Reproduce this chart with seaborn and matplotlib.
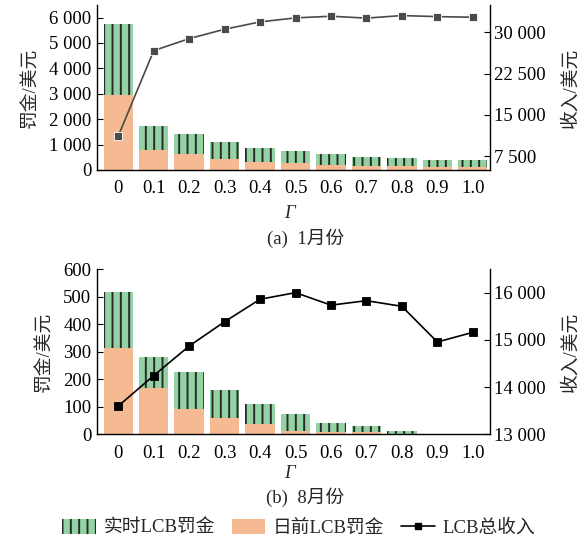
import numpy as np
import pandas as pd
import matplotlib
matplotlib.use("Agg")
import matplotlib.pyplot as plt
import seaborn as sns
from matplotlib.ticker import FuncFormatter, FixedLocator
from matplotlib.patches import Patch
from matplotlib.lines import Line2D

# ---- data ----
gamma_labels = ["0", "0.1", "0.2", "0.3", "0.4", "0.5", "0.6", "0.7", "0.8", "0.9", "1.0"]

jan_total_penalty = [5750, 1730, 1405, 1115, 853, 761, 617, 512, 485, 394, 394]
jan_dayahead_penalty = [2950, 790, 630, 433, 328, 262, 210, 170, 165, 118, 118]
jan_income = [11180, 26690, 28870, 30580, 31910, 32640, 32940, 32600, 33060, 32870, 32760]

aug_total_penalty = [517, 282, 226, 161, 111, 73, 41, 29, 12, 3, 2]
aug_dayahead_penalty = [314, 169, 91, 60, 36.5, 13, 10, 8, 3, 1, 1]
aug_income = [13600, 14245, 14870, 15385, 15860, 16000, 15735, 15830, 15710, 14955, 15160]

GREEN = "#92d2a3"
ORANGE = "#f6ba92"
HATCH_C = "#2a2a2a"

sns.set_theme(style="white")
plt.rcParams["font.family"] = ["Liberation Serif", "Noto Sans CJK SC", "DejaVu Sans"]
plt.rcParams["hatch.linewidth"] = 1.4
plt.rcParams["hatch.color"] = HATCH_C
plt.rcParams["axes.unicode_minus"] = False

FS = 13.5

def thou(x, pos):
    return f"{int(round(x)):,}".replace(",", " ")

fig = plt.figure(figsize=(5.88, 5.44), dpi=100)

def panel(rect, total, dayahead, income, lylim, lyticks, rylim, ryticks, lcolor, caption, cap_y, gamma_y):
    ax = fig.add_axes(rect)
    df = pd.DataFrame({"g": gamma_labels, "total": total, "da": dayahead})
    sns.barplot(data=df, x="g", y="total", ax=ax, color=GREEN, width=0.83,
                hatch="||", edgecolor=HATCH_C, linewidth=0, saturation=1)
    sns.barplot(data=df, x="g", y="da", ax=ax, color=ORANGE, width=0.83,
                edgecolor=ORANGE, linewidth=0, saturation=1)
    ax.set_xlim(-0.6, len(gamma_labels) - 0.52)
    ax.set_ylim(*lylim)
    ax.yaxis.set_major_locator(FixedLocator(lyticks))
    ax.yaxis.set_major_formatter(FuncFormatter(thou))
    ax.set_xlabel("")
    ax.set_ylabel("罚金/美元", fontsize=FS, labelpad=7)
    ax.tick_params(axis="both", direction="in", length=4, width=0.8, labelsize=FS, colors="black")
    ax.tick_params(axis="y", pad=4)
    ax.tick_params(axis="x", pad=7.5)
    for s in ["left", "bottom"]:
        ax.spines[s].set_color("black")
        ax.spines[s].set_linewidth(1.0)
    ax.spines["top"].set_visible(False)
    ax.spines["right"].set_visible(False)

    ax2 = ax.twinx()
    ax2.plot(np.arange(len(gamma_labels)), income, color=lcolor, lw=1.2, marker="s",
             markersize=6, markerfacecolor=lcolor,
             markeredgecolor="white" if lcolor != "black" else "black", markeredgewidth=0.6)
    ax2.set_ylim(*rylim)
    ax2.yaxis.set_major_locator(FixedLocator(ryticks))
    ax2.yaxis.set_major_formatter(FuncFormatter(thou))
    ax2.set_ylabel("收入/美元", fontsize=FS, rotation=90, labelpad=12)
    ax2.tick_params(axis="y", direction="in", length=4, width=0.8, labelsize=FS, pad=3, colors="black")
    ax2.spines["right"].set_color("black")
    ax2.spines["right"].set_linewidth(1.0)
    for s in ["top", "left", "bottom"]:
        ax2.spines[s].set_visible(False)

    fig.text(0.493, gamma_y, "Γ", fontsize=FS, style="italic", ha="center", va="center")
    fig.text(0.519, cap_y, caption, fontsize=FS, ha="center", va="center")
    return ax, ax2

panel([0.165, 0.6875, 0.668, 0.3035], jan_total_penalty, jan_dayahead_penalty, jan_income,
      (0, 6500), [0, 1000, 2000, 3000, 4000, 5000, 6000],
      (5000, 35000), [7500, 15000, 22500, 30000], "#4a4a4a",
      "(a)  1月份", 1 - 238 / 544, 1 - 214 / 544)

panel([0.165, 0.2015, 0.668, 0.304], aug_total_penalty, aug_dayahead_penalty, aug_income,
      (0, 600), [0, 100, 200, 300, 400, 500, 600],
      (13000, 16500), [13000, 14000, 15000, 16000], "black",
      "(b)  8月份", 1 - 497 / 544, 1 - 474 / 544)

handles = [
    Patch(facecolor=GREEN, edgecolor=HATCH_C, hatch="||", linewidth=0),
    Patch(facecolor=ORANGE, edgecolor=ORANGE, linewidth=0),
    Line2D([0], [0], color="black", lw=1.2, marker="s", markersize=5),
]
fig.legend(handles, ["实时LCB罚金", "日前LCB罚金", "LCB总收入"], loc="center",
           bbox_to_anchor=(0.508, 1 - 528 / 544), ncol=3, frameon=False, fontsize=FS,
           handlelength=1.8, handleheight=0.9, handletextpad=0.4, columnspacing=0.9)

fig.savefig("out.png", dpi=100)
